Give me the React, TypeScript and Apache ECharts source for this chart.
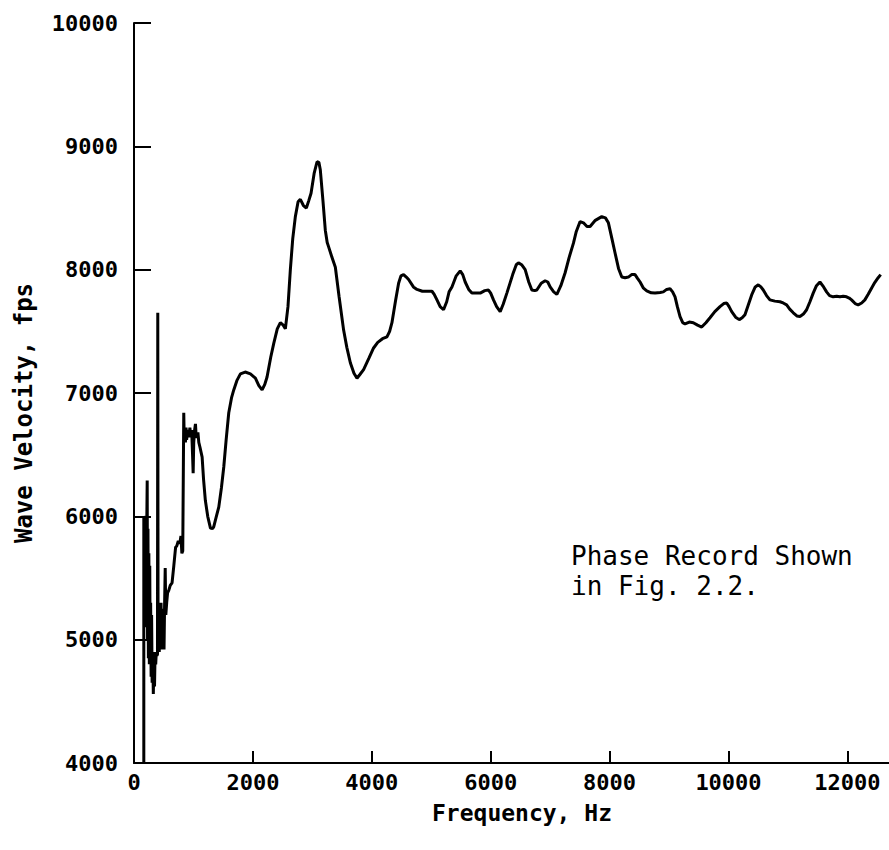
import React, { useEffect, useRef } from "react";
import * as echarts from "echarts";

const freqHz: number[] = [
  165, 165, 175, 185, 195, 205, 215, 222, 228, 235, 242, 250, 258, 265, 272, 280, 288, 296, 305, 315,
  325, 335, 345, 355, 365, 375, 385, 395, 400, 405, 415, 425, 435, 445, 455, 465, 475, 485, 495, 505,
  515, 525, 535, 550, 565, 585, 610, 640, 670, 700, 720, 745, 770, 790, 805, 820, 837, 845, 855, 865,
  875, 885, 895, 910, 925, 940, 955, 970, 985, 995, 1005, 1020, 1034, 1045, 1060, 1075, 1090, 1110, 1146, 1170,
  1200, 1240, 1286, 1320, 1341, 1380, 1426, 1470, 1510, 1550, 1594, 1640, 1678, 1730, 1790, 1870, 1958, 2042, 2100, 2155,
  2200, 2238, 2300, 2350, 2410, 2462, 2510, 2546, 2590, 2630, 2670, 2714, 2760, 2798, 2850, 2899, 2940, 2978, 3030, 3079,
  3110, 3134, 3180, 3218, 3250, 3274, 3330, 3387, 3450, 3526, 3580, 3639, 3700, 3751, 3800, 3862, 3950, 4030, 4100, 4180,
  4255, 4300, 4339, 4400, 4451, 4490, 4535, 4580, 4619, 4700, 4760, 4850, 4950, 5012, 5050, 5096, 5150, 5207, 5260, 5300,
  5348, 5420, 5487, 5530, 5571, 5630, 5684, 5750, 5824, 5900, 5963, 6000, 6047, 6100, 6160, 6210, 6272, 6370, 6430, 6467,
  6520, 6580, 6640, 6692, 6740, 6776, 6850, 6916, 6960, 7000, 7060, 7113, 7180, 7252, 7320, 7392, 7440, 7504, 7560, 7620,
  7672, 7760, 7868, 7930, 7980, 8040, 8092, 8150, 8205, 8260, 8316, 8370, 8428, 8470, 8513, 8570, 8625, 8700, 8765, 8850,
  8904, 8960, 9017, 9060, 9101, 9140, 9185, 9230, 9269, 9340, 9408, 9480, 9549, 9620, 9689, 9770, 9857, 9920, 9970, 10010,
  10054, 10120, 10181, 10230, 10277, 10330, 10390, 10450, 10501, 10545, 10585, 10640, 10697, 10780, 10866, 10920, 10978, 11030, 11090, 11150,
  11202, 11260, 11314, 11370, 11425, 11480, 11538, 11600, 11650, 11700, 11761, 11820, 11874, 11930, 11986, 12030, 12070, 12130, 12181, 12240,
  12294, 12350, 12406, 12460, 12518, 12560,
];

const velocityFps: number[] = [
  4000, 6000, 5990, 5200, 6000, 5100, 5950, 6290, 5000, 5900, 4850, 5700, 4800, 5600, 4900, 5300, 4700, 5200, 4650, 4900,
  4560, 4850, 4620, 4900, 4800, 4900, 4870, 4880, 7650, 4950, 5300, 4900, 5250, 4920, 5300, 4950, 5250, 4920, 5100, 4920,
  5300, 5580, 5200, 5300, 5380, 5400, 5440, 5460, 5600, 5750, 5760, 5800, 5780, 5840, 5700, 5720, 6840, 6620, 6700, 6600,
  6720, 6620, 6660, 6700, 6640, 6720, 6650, 6700, 6500, 6350, 6600, 6700, 6750, 6650, 6640, 6680, 6600, 6560, 6480, 6300,
  6130, 6000, 5905, 5900, 5915, 5990, 6075, 6230, 6400, 6620, 6840, 6960, 7025, 7100, 7155, 7170, 7155, 7120, 7060, 7025,
  7070, 7130, 7290, 7400, 7520, 7570, 7550, 7520, 7700, 8000, 8250, 8430, 8550, 8570, 8520, 8500, 8560, 8620, 8780, 8875,
  8870, 8810, 8550, 8320, 8220, 8185, 8100, 8020, 7780, 7510, 7370, 7245, 7160, 7120, 7150, 7190, 7280, 7365, 7410, 7440,
  7455, 7500, 7570, 7750, 7890, 7950, 7960, 7940, 7920, 7860, 7840, 7825, 7825, 7825, 7800, 7755, 7700, 7675, 7740, 7820,
  7860, 7950, 7990, 7960, 7900, 7840, 7810, 7810, 7810, 7830, 7835, 7810, 7755, 7700, 7660, 7720, 7810, 7960, 8040, 8055,
  8040, 8000, 7900, 7835, 7830, 7835, 7890, 7910, 7900, 7860, 7820, 7800, 7870, 7975, 8100, 8215, 8310, 8390, 8380, 8350,
  8350, 8400, 8430, 8420, 8380, 8250, 8135, 8010, 7940, 7935, 7940, 7960, 7960, 7930, 7900, 7850, 7828, 7812, 7810, 7815,
  7820, 7840, 7845, 7820, 7780, 7700, 7620, 7570, 7560, 7575, 7570, 7550, 7535, 7570, 7610, 7660, 7700, 7725, 7730, 7700,
  7660, 7615, 7595, 7610, 7635, 7710, 7795, 7860, 7877, 7860, 7835, 7790, 7755, 7745, 7740, 7730, 7715, 7680, 7650, 7625,
  7620, 7640, 7675, 7740, 7810, 7870, 7900, 7860, 7820, 7790, 7780, 7785, 7780, 7785, 7780, 7770, 7755, 7725, 7715, 7730,
  7755, 7800, 7850, 7895, 7935, 7960,
];

const xTicks = { min: 0, max: 12700, interval: 2000 };
const yTicks = { min: 4000, max: 10000, interval: 1000 };

const xTitle = "Frequency, Hz";
const yTitle = "Wave Velocity, fps";
const noteLines = ["Phase Record Shown", "in Fig. 2.2."];

export default function App() {
  const ref = useRef<HTMLDivElement>(null);

  useEffect(() => {
    if (!ref.current) return;
    const chart = echarts.init(ref.current, undefined, { renderer: "svg" });
    const data = freqHz.map((f, i) => [f, velocityFps[i]]);
    const mono = "DejaVu Sans Mono";
    chart.setOption({
      animation: false,
      backgroundColor: "#ffffff",
      grid: { left: 134, right: 0, top: 23, bottom: 87, containLabel: false },
      xAxis: {
        type: "value",
        min: xTicks.min,
        max: xTicks.max,
        interval: xTicks.interval,
        axisLine: { show: true, lineStyle: { color: "#000", width: 2 } },
        axisTick: { show: true, inside: true, length: 12, lineStyle: { color: "#000", width: 2 } },
        axisLabel: {
          color: "#000",
          fontFamily: mono,
          fontWeight: "bold",
          fontSize: 22,
          margin: 8,
          showMaxLabel: false,
          formatter: (v: number) => String(v),
        },
        splitLine: { show: false },
      },
      yAxis: {
        type: "value",
        min: yTicks.min,
        max: yTicks.max,
        interval: yTicks.interval,
        axisLine: { show: true, lineStyle: { color: "#000", width: 2 } },
        axisTick: { show: true, inside: true, length: 17, lineStyle: { color: "#000", width: 2 } },
        axisLabel: {
          color: "#000",
          fontFamily: mono,
          fontWeight: "bold",
          fontSize: 22,
          margin: 16,
          formatter: (v: number) => String(v),
        },
        splitLine: { show: false },
      },
      graphic: [
        {
          type: "text",
          x: 522,
          y: 813,
          style: {
            text: xTitle,
            fill: "#000",
            font: `bold 23px "${mono}"`,
            align: "center",
            verticalAlign: "middle",
          },
        },
        {
          type: "text",
          x: 24,
          y: 413,
          rotation: Math.PI / 2,
          style: {
            text: yTitle,
            fill: "#000",
            font: `bold 24px "${mono}"`,
            align: "center",
            verticalAlign: "middle",
          },
        },
        {
          type: "text",
          x: 571,
          y: 541,
          style: {
            text: noteLines.join("\n"),
            fill: "#000",
            font: `26px "${mono}"`,
            lineHeight: 30,
            align: "left",
            verticalAlign: "top",
          },
        },
      ],
      series: [
        {
          type: "line",
          data,
          showSymbol: false,
          symbol: "none",
          smooth: false,
          lineStyle: { color: "#000", width: 3 },
        },
      ],
    });
    return () => chart.dispose();
  }, []);

  return (
    <div
      ref={ref}
      style={{ position: "fixed", left: 0, top: 0, width: 889, height: 850, background: "#fff" }}
    />
  );
}
